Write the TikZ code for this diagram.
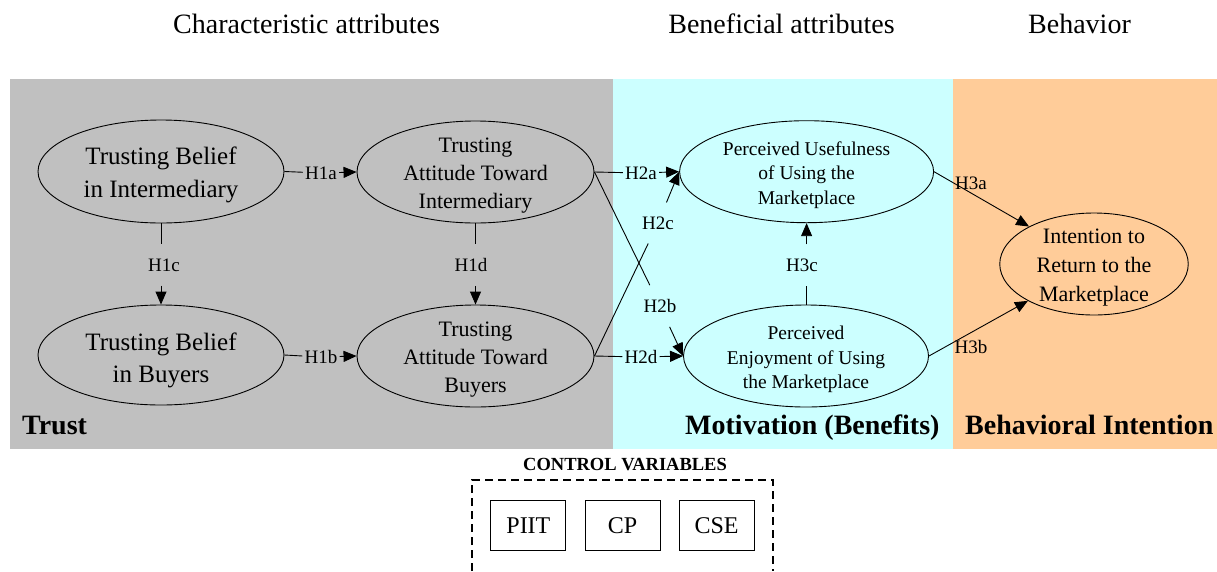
\documentclass[tikz,border=0pt]{standalone}
\usepackage{fontspec}
\setmainfont{Liberation Serif}
\usetikzlibrary{shapes.geometric,arrows.meta}
\definecolor{panelgray}{HTML}{C0C0C0}
\definecolor{panelcyan}{HTML}{CCFFFF}
\definecolor{panelorange}{HTML}{FFCC99}
\begin{document}
\begin{tikzpicture}[x=1pt,y=-1pt,
  ell/.style={draw, ellipse, line width=0.9pt, inner sep=0pt},
  etext/.style={align=center, inner sep=0pt, yshift=-3.5pt},
  hyp/.style={font=\fontsize{19}{22}\selectfont, inner xsep=2pt, inner ysep=14pt},
  hypfree/.style={font=\fontsize{19}{22}\selectfont, inner sep=0pt},
  conn/.style={line width=0.9pt},
  arr/.style={line width=0.9pt, -{Triangle[length=13pt,width=11pt]}},
  header/.style={font=\fontsize{28}{34}\selectfont, anchor=base, inner sep=0pt},
  region/.style={font=\bfseries\fontsize{28}{34}\selectfont, anchor=base west, inner sep=0pt},
  ctrlbox/.style={draw, line width=0.9pt, minimum width=75pt, minimum height=50pt, inner sep=0pt, font=\fontsize{24}{28}\selectfont}
]
\useasboundingbox (0,0) rectangle (1217,571);
% panels
\fill[panelgray] (10,79) rectangle (613,449);
\fill[panelcyan] (613,79) rectangle (953,449);
\fill[panelorange] (953,79) rectangle (1217,449);

% headers
\node[header] (hdr1) at (306.5,33.5) {Characteristic attributes};
\node[header] (hdr2) at (781.5,33.5) {Beneficial attributes};
\node[header] (hdr3) at (1079.5,33.5) {Behavior};

% ellipses
\node[ell, minimum width=246pt, minimum height=103pt] (E1) at (161,171.5) {};
\node[ell, minimum width=237pt, minimum height=102pt] (E2) at (475.5,172) {};
\node[ell, minimum width=246pt, minimum height=100pt] (E3) at (161,355) {};
\node[ell, minimum width=237pt, minimum height=102pt] (E4) at (475.5,356) {};
\node[ell, minimum width=254pt, minimum height=102pt] (E5) at (806.6,171.7) {};
\node[ell, minimum width=245pt, minimum height=102pt] (E6) at (806,356) {};
\node[ell, minimum width=188.5pt, minimum height=102pt] (E7) at (1094,264) {};

\node[etext, font=\fontsize{25}{32.5}\selectfont] (E1t) at (E1) {Trusting Belief\\in Intermediary};
\node[etext, font=\fontsize{25}{32.5}\selectfont, yshift=-2pt] (E3t) at (E3) {Trusting Belief\\in Buyers};
\node[etext, font=\fontsize{22}{28.3}\selectfont] (E2t) at (E2) {Trusting\\Attitude Toward\\Intermediary};
\node[etext, font=\fontsize{22}{28.3}\selectfont] (E4t) at (E4) {Trusting\\Attitude Toward\\Buyers};
\node[etext, font=\fontsize{19.5}{24.3}\selectfont] (E5t) at (E5) {Perceived Usefulness\\of Using the\\Marketplace};
\node[etext, font=\fontsize{19.5}{24.5}\selectfont] (E6t) at (E6) {Perceived\\Enjoyment of Using\\the Marketplace};
\node[etext, font=\fontsize{22}{28.7}\selectfont] (E7t) at (E7) {Intention to\\Return to the\\Marketplace};

% hypothesis labels
\node[hyp] (H1a) at (321,173) {H1a};
\node[hyp] (H1b) at (321,357) {H1b};
\node[hyp] (H1c) at (164,265) {H1c};
\node[hyp] (H1d) at (471,265) {H1d};
\node[hyp] (H2a) at (641,173) {H2a};
\node[hyp] (H2d) at (641,357) {H2d};
\node[hyp] (H2c) at (658,223) {H2c};
\node[hyp] (H2b) at (660,306) {H2b};
\node[hyp] (H3c) at (802,265) {H3c};
\node[hypfree] (H3a) at (971,183) {H3a};
\node[hypfree] (H3b) at (971,346.5) {H3b};

% connectors
\draw[conn] (E1.east) -- (H1a); \draw[arr] (H1a) -- (E2.west);
\draw[conn] (E3.east) -- (H1b); \draw[arr] (H1b) -- (E4.west);
\draw[conn] (E1.south) -- (E1.south |- H1c.north); \draw[arr] (E3.north |- H1c.south) -- (E3.north);
\draw[conn] (E2.south) -- (E2.south |- H1d.north); \draw[arr] (E4.north |- H1d.south) -- (E4.north);
\draw[conn] (E2.east) -- (H2a); \draw[arr] (H2a) -- (E5.west);
\draw[conn] (E4.east) -- (H2d); \draw[arr] (H2d) -- (E6.west);
\draw[conn] (E4.east) -- (H2c); \draw[arr] (H2c) -- (E5.west);
\draw[conn] (E2.east) -- (H2b); \draw[arr] (H2b) -- (E6.west);
\draw[conn] (E6.north) -- (E6.north |- H3c.south); \draw[arr] (E5.south |- H3c.north) -- (E5.south);
\draw[arr] (E5.east) -- (E7);
\draw[arr] (E6.east) -- (E7);

% region labels
\node[region] (trust) at (22,434) {Trust};
\node[region] (motiv) at (685,434) {Motivation (Benefits)};
\node[region] (behav) at (965,434) {Behavioral Intention};

% control variables
\node[font=\bfseries\fontsize{18.5}{22}\selectfont, anchor=base, inner sep=0pt] (ctl) at (625,470) {CONTROL VARIABLES};
\draw[line width=1.5pt, dash pattern=on 8pt off 5pt] (472,571) -- (472,480) -- (773,480) -- (773,571);
\node[ctrlbox, text height=16pt, text depth=0pt] (piit) at (528.4,525) {PIIT};
\node[ctrlbox, text height=16pt, text depth=0pt] (cp) at (622.5,525) {CP};
\node[ctrlbox, text height=16pt, text depth=0pt] (cse) at (716.5,525) {CSE};
\end{tikzpicture}
\end{document}
